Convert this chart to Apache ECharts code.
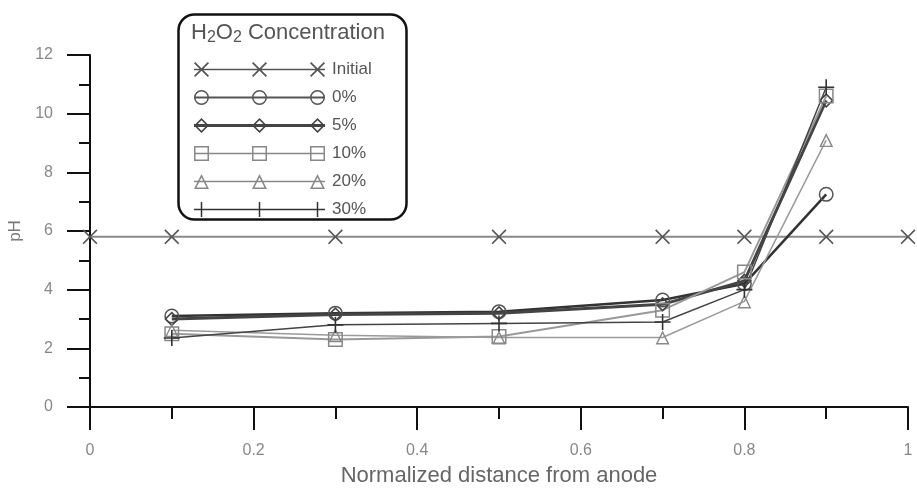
<!DOCTYPE html>
<html>
<head>
<meta charset="utf-8">
<script src="https://cdn.jsdelivr.net/npm/echarts@6/dist/echarts.min.js"></script>
<style>
    html, body { margin: 0; padding: 0; background: #fff; }
    #main { width: 917px; height: 489px; }
</style>
</head>
<body>
<div id="main"></div>
<script>
// normalized distance of the sampling points
var initialX = [0, 0.1, 0.3, 0.5, 0.7, 0.8, 0.9, 1.0];
var initialPH = [5.8, 5.8, 5.8, 5.8, 5.8, 5.8, 5.8, 5.8];
var sampleX = [0.1, 0.3, 0.5, 0.7, 0.8, 0.9];
var ph0 = [3.1, 3.2, 3.25, 3.65, 4.2, 7.25];
var ph5 = [3.0, 3.15, 3.2, 3.5, 4.3, 10.45];
var ph10 = [2.5, 2.3, 2.4, 3.3, 4.6, 10.6];
var ph20 = [2.62, 2.45, 2.37, 2.37, 3.6, 9.1];
var ph30 = [2.35, 2.8, 2.85, 2.9, 4.0, 10.9];
var seriesNames = ['Initial', '0%', '5%', '10%', '20%', '30%'];

// marker outlines as path pieces (outer clockwise, hole counter-clockwise so lines show through)
function pCross(cx, cy, r) {
    var t = r * 0.16;
    var p = [[-r, -r + t], [-r + t, -r], [0, -t], [r - t, -r], [r, -r + t], [t, 0],
             [r, r - t], [r - t, r], [0, t], [-r + t, r], [-r, r - t], [-t, 0]];
    return 'M' + p.map(function (q) { return (cx + q[0]) + ',' + (cy + q[1]); }).join(' L') + ' Z';
}
function pPlus(cx, cy, r) {
    var t = r * 0.1;
    var p = [[-t, -r], [t, -r], [t, -t], [r, -t], [r, t], [t, t], [t, r], [-t, r], [-t, t], [-r, t], [-r, -t], [-t, -t]];
    return 'M' + p.map(function (q) { return (cx + q[0]) + ',' + (cy + q[1]); }).join(' L') + ' Z';
}
function pCircle(cx, cy, r) {
    var ri = r * 0.8;
    return 'M' + (cx - r) + ',' + cy + ' A' + r + ',' + r + ' 0 1,1 ' + (cx + r) + ',' + cy +
        ' A' + r + ',' + r + ' 0 1,1 ' + (cx - r) + ',' + cy + ' Z' +
        ' M' + (cx - ri) + ',' + cy + ' A' + ri + ',' + ri + ' 0 1,0 ' + (cx + ri) + ',' + cy +
        ' A' + ri + ',' + ri + ' 0 1,0 ' + (cx - ri) + ',' + cy + ' Z';
}
function pRect(cx, cy, r) {
    var ri = r * 0.8;
    return 'M' + (cx - r) + ',' + (cy - r) + ' L' + (cx + r) + ',' + (cy - r) + ' L' + (cx + r) + ',' + (cy + r) + ' L' + (cx - r) + ',' + (cy + r) + ' Z' +
        ' M' + (cx - ri) + ',' + (cy - ri) + ' L' + (cx - ri) + ',' + (cy + ri) + ' L' + (cx + ri) + ',' + (cy + ri) + ' L' + (cx + ri) + ',' + (cy - ri) + ' Z';
}
function pTri(cx, cy, r) {
    return 'M' + cx + ',' + (cy - r) + ' L' + (cx + r) + ',' + (cy + r) + ' L' + (cx - r) + ',' + (cy + r) + ' Z' +
        ' M' + cx + ',' + (cy - r * 0.55) + ' L' + (cx - r * 0.67) + ',' + (cy + r * 0.8) + ' L' + (cx + r * 0.67) + ',' + (cy + r * 0.8) + ' Z';
}
function pDiamond(cx, cy, r) {
    var ri = r * 0.7;
    return 'M' + cx + ',' + (cy - r) + ' L' + (cx + r) + ',' + cy + ' L' + cx + ',' + (cy + r) + ' L' + (cx - r) + ',' + cy + ' Z' +
        ' M' + cx + ',' + (cy - ri) + ' L' + (cx - ri) + ',' + cy + ' L' + cx + ',' + (cy + ri) + ' L' + (cx + ri) + ',' + cy + ' Z';
}
var shapes = [pCross, pCircle, pDiamond, pRect, pTri, pPlus];

// legend icon: line with three markers
var ICON_W = 131, ICON_H = 15;
function legendIcon(fn, lw) {
    var r = ICON_H / 2, cy = r;
    var s = 'M0,' + (cy - lw) + ' L' + ICON_W + ',' + (cy - lw) + ' L' + ICON_W + ',' + (cy + lw) + ' L0,' + (cy + lw) + ' Z';
    [r, ICON_W / 2, ICON_W - r].forEach(function (cx) { s += ' ' + fn(cx, cy, r); });
    return 'path://' + s;
}

function pairs(xs, ys) {
    return xs.map(function (x, i) { return [x, ys[i]]; });
}

function makeSeries(idx, xs, ys, size, lineColor, lineWidth, markColor) {
    return {
        name: seriesNames[idx],
        type: 'line',
        data: pairs(xs, ys),
        symbol: 'path://' + shapes[idx](5, 5, 5),
        symbolSize: size,
        showAllSymbol: true,
        lineStyle: { color: lineColor, width: lineWidth },
        itemStyle: { color: markColor },
        emphasis: { disabled: true }
    };
}

var chart = echarts.init(document.getElementById('main'));

var option = {
    backgroundColor: '#fff',
    animation: false,
    textStyle: { fontFamily: 'Liberation Sans, Arial, sans-serif' },
    grid: { left: 90, right: 9, top: 55, bottom: 82, outerBoundsMode: 'none' },
    xAxis: {
        type: 'value',
        min: 0,
        max: 1,
        interval: 0.2,
        name: 'Normalized distance from anode',
        nameLocation: 'middle',
        nameGap: 58,
        nameTextStyle: { fontSize: 22, color: '#666' },
        axisLine: { lineStyle: { color: '#111', width: 2 } },
        axisTick: { length: 23, lineStyle: { color: '#111', width: 2 } },
        minorTick: { show: true, splitNumber: 2, length: 12, lineStyle: { color: '#111', width: 2 } },
        axisLabel: { margin: 36, fontSize: 16, color: '#888',
            formatter: function (v) { return String(+v.toFixed(1)); } },
        splitLine: { show: false }
    },
    yAxis: {
        type: 'value',
        min: 0,
        max: 12,
        interval: 2,
        name: 'pH',
        nameLocation: 'middle',
        nameGap: 66,
        nameTextStyle: { fontSize: 17, color: '#777' },
        axisLine: { lineStyle: { color: '#111', width: 2 } },
        axisTick: { length: 23, lineStyle: { color: '#111', width: 2 } },
        minorTick: { show: true, splitNumber: 2, length: 11, lineStyle: { color: '#111', width: 2 } },
        axisLabel: { margin: 37, fontSize: 16, color: '#888' },
        splitLine: { show: false }
    },
    legend: {
        orient: 'vertical',
        left: 189,
        top: 56,
        itemWidth: ICON_W,
        itemHeight: ICON_H,
        itemGap: 11,
        symbolKeepAspect: false,
        itemStyle: { borderWidth: 0 },
        data: [
            { name: 'Initial', icon: legendIcon(pCross, 0.7) },
            { name: '0%', icon: legendIcon(pCircle, 1.1) },
            { name: '5%', icon: legendIcon(pDiamond, 1.4) },
            { name: '10%', icon: legendIcon(pRect, 0.8) },
            { name: '20%', icon: legendIcon(pTri, 0.8) },
            { name: '30%', icon: legendIcon(pPlus, 0.8) }
        ],
        textStyle: { fontSize: 17, lineHeight: 17, color: '#555', padding: [0, 0, 0, 2] },
        selectedMode: false
    },
    graphic: [
        {
            type: 'rect',
            left: 176,
            top: 12,
            shape: { width: 228, height: 205, r: 16 },
            style: { fill: 'none', stroke: '#111', lineWidth: 2.5 },
            z: 100
        },
        {
            type: 'text',
            left: 191,
            top: 22,
            style: {
                text: 'H{s|2}O{s|2} Concentration',
                fill: '#555',
                font: '22px "Liberation Sans", Arial, sans-serif',
                rich: {
                    s: { fontSize: 16, fill: '#555', verticalAlign: 'bottom', padding: [10, 0, 0, 0] }
                }
            },
            z: 100
        }
    ],
    series: [
        makeSeries(0, initialX, initialPH, 15, '#8a8a8a', 2, '#555'),
        makeSeries(1, sampleX, ph0, 15, '#333', 2.5, '#555'),
        makeSeries(2, sampleX, ph5, 15, '#444', 3, '#444'),
        makeSeries(3, sampleX, ph10, 15, '#999', 2, '#888'),
        makeSeries(4, sampleX, ph20, 14, '#9a9a9a', 1.5, '#888'),
        makeSeries(5, sampleX, ph30, 16, '#444', 1.5, '#333')
    ]
};

chart.setOption(option);
</script>
</body>
</html>
